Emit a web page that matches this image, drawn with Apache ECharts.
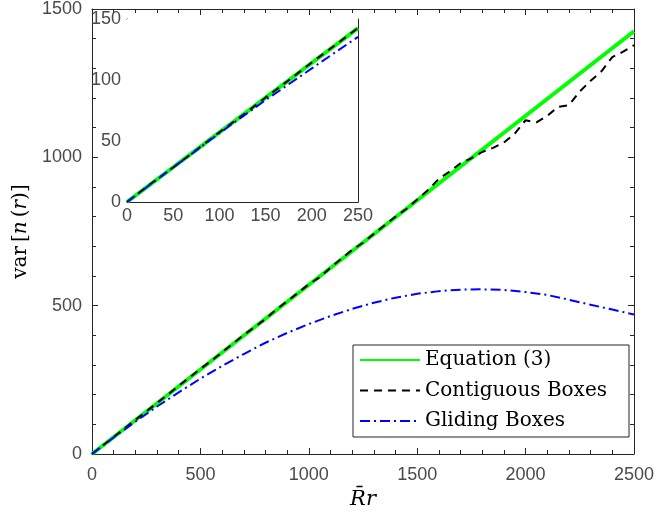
<!DOCTYPE html>
<html>
<head>
<meta charset="utf-8">
<script src="https://cdn.jsdelivr.net/npm/echarts@6/dist/echarts.min.js"></script>
<style>
  html, body { margin: 0; padding: 0; background: #fff; }
  #chart { width: 657px; height: 515px; }
</style>
</head>
<body>
<div id="chart"></div>
<script>
// ---- data ----
var seriesNames = ['Equation (3)', 'Contiguous Boxes', 'Gliding Boxes'];

// Equation (3): straight line through the origin
var eqX = [0, 2500];
var eqY = [0, 1425];

// Contiguous boxes (sampled every 50)
var contX = [0, 50, 100, 150, 200, 250, 300, 350, 400, 450, 500, 550, 600, 650, 700, 750, 800, 850, 900, 950,
  1000, 1050, 1100, 1150, 1200, 1250, 1300, 1350, 1400, 1450, 1500, 1550, 1600, 1650, 1700, 1750, 1800, 1850, 1900, 1950,
  2000, 2050, 2100, 2150, 2200, 2250, 2300, 2350, 2400, 2450, 2500];
var contY = [0, 29, 57, 86, 115, 143, 172, 200, 230, 258, 287, 314, 343, 372, 401, 428, 455, 487, 515, 543,
  572, 596, 628, 658, 688, 712, 742, 771, 800, 826, 858, 890, 928, 952, 980, 997, 1018, 1032, 1050, 1080,
  1125, 1118, 1140, 1170, 1176, 1222, 1258, 1290, 1338, 1356, 1378];

// Gliding boxes (sampled every 100)
var glideX = [0, 100, 200, 300, 400, 500, 600, 700, 800, 900, 1000, 1100, 1200, 1300, 1400, 1500, 1600, 1700, 1800,
  1900, 2000, 2100, 2200, 2300, 2400, 2500];
var glideY = [0, 56, 109, 160, 208, 254, 297, 337, 375, 408, 438, 465, 489, 510, 527, 540, 549, 554, 555,
  553, 546, 536, 520, 503, 487, 470];

// Close-up of the first 250 units
var zoomX = [0, 25, 50, 75, 100, 125, 150, 175, 200, 225, 250];
var zoomEqY = [0, 14.25, 28.5, 42.75, 57, 71.25, 85.5, 99.75, 114, 128.25, 142.5];
var zoomContY = [0, 14.5, 28.3, 42.6, 57.2, 71.0, 85.6, 99.8, 114.4, 128.4, 142.6];
var zoomGlideY = [0, 14.3, 28.4, 42.3, 56.4, 70.0, 83.5, 96.5, 109.5, 122.5, 135.3];

function pairs(xs, ys) { return xs.map(function (x, i) { return [x, ys[i]]; }); }

var axisColor = '#262626';
var labelColor = '#4a4a4a';
var sansFont = '"Liberation Sans", Arial, sans-serif';
var serifFont = '"DejaVu Serif", serif';

function boxAxis(opts) {
  // one side of a boxed axes frame: ticks pointing inwards, minor ticks
  var a = {
    type: 'value',
    gridIndex: opts.grid,
    position: opts.position,
    min: opts.min, max: opts.max, interval: opts.interval,
    axisLine: { show: true, onZero: false, lineStyle: { color: axisColor, width: 1 } },
    axisTick: { show: true, inside: true, length: opts.tickLen, lineStyle: { color: axisColor } },
    minorTick: { show: true, splitNumber: opts.minorSplit, length: opts.minorLen, lineStyle: { color: axisColor } },
    splitLine: { show: false },
    axisLabel: opts.labels ? {
      show: true, color: labelColor, fontFamily: sansFont, fontSize: opts.fontSize, margin: opts.margin,
      showMinLabel: true, showMaxLabel: true,
      formatter: function (v) { return String(v); }
    } : { show: false }
  };
  if (opts.name) {
    a.name = opts.name;
    a.nameLocation = 'middle';
    a.nameGap = opts.nameGap;
    a.nameRotate = opts.nameRotate;
    a.nameTextStyle = opts.nameTextStyle;
  }
  return a;
}

var greenStyle = { color: '#00ff00', width: 4, type: 'solid' };
var blackStyle = { color: '#000000', width: 2, type: [8, 6] };
var blueStyle = { color: '#0000ff', width: 2, type: [10, 4, 2, 4] };

function lineSeries(name, xi, yi, data, style, z) {
  return {
    name: name, type: 'line', xAxisIndex: xi, yAxisIndex: yi, data: data,
    showSymbol: false, symbol: 'none', smooth: false, lineStyle: style,
    itemStyle: { color: style.color }, z: z, animation: false, silent: true
  };
}

var chart = echarts.init(document.getElementById('chart'), null, { renderer: 'canvas' });

chart.setOption({
  backgroundColor: '#ffffff',
  animation: false,
  grid: [
    { left: 92, right: 23, top: 9, bottom: 61, containLabel: false },
    { left: 127, top: 19, width: 231, height: 183, show: true, backgroundColor: '#ffffff', borderWidth: 0, z: 5 }
  ],
  xAxis: [
    boxAxis({ grid: 0, position: 'bottom', min: 0, max: 2500, interval: 500, tickLen: 6, minorSplit: 5, minorLen: 4,
      labels: true, fontSize: 18, margin: 12,
      name: 'R\u0304r', nameGap: 32,
      nameTextStyle: { fontFamily: serifFont, fontStyle: 'italic', fontSize: 21, color: '#000' } }),
    boxAxis({ grid: 0, position: 'top', min: 0, max: 2500, interval: 500, tickLen: 6, minorSplit: 5, minorLen: 4, labels: false }),
    boxAxis({ grid: 1, position: 'bottom', min: 0, max: 250, interval: 50, tickLen: 5, minorSplit: 2, minorLen: 3,
      labels: true, fontSize: 18, margin: 5 }),
    boxAxis({ grid: 1, position: 'top', min: 0, max: 250, interval: 50, tickLen: 5, minorSplit: 2, minorLen: 3, labels: false })
  ],
  yAxis: [
    boxAxis({ grid: 0, position: 'left', min: 0, max: 1500, interval: 500, tickLen: 6, minorSplit: 5, minorLen: 4,
      labels: true, fontSize: 18, margin: 10,
      name: '{u|var\u2009[}{i|n}{u|\u2009(}{i|r}{u|)]}', nameGap: 56, nameRotate: 90,
      nameTextStyle: {
        rich: {
          u: { fontFamily: serifFont, fontSize: 20, color: '#000' },
          i: { fontFamily: serifFont, fontStyle: 'italic', fontSize: 20, color: '#000' }
        }
      } }),
    boxAxis({ grid: 0, position: 'right', min: 0, max: 1500, interval: 500, tickLen: 6, minorSplit: 5, minorLen: 4, labels: false }),
    boxAxis({ grid: 1, position: 'left', min: 0, max: 150, interval: 50, tickLen: 5, minorSplit: 2, minorLen: 3,
      labels: true, fontSize: 18, margin: 6 }),
    boxAxis({ grid: 1, position: 'right', min: 0, max: 150, interval: 50, tickLen: 5, minorSplit: 2, minorLen: 3, labels: false })
  ],
  legend: {
    orient: 'vertical',
    left: 353, top: 345,
    data: seriesNames,
    backgroundColor: '#ffffff',
    borderColor: axisColor, borderWidth: 1,
    padding: [5, 22, 6, 6],
    itemWidth: 60, itemHeight: 14, itemGap: 10.5,
    itemStyle: { color: 'rgba(0,0,0,0)', borderColor: 'rgba(0,0,0,0)', borderWidth: 0, opacity: 0 },
    textStyle: { fontFamily: serifFont, fontSize: 20, color: '#000', lineHeight: 20 },
    selectedMode: false
  },
  series: [
    lineSeries(seriesNames[0], 0, 0, pairs(eqX, eqY), greenStyle, 2),
    lineSeries(seriesNames[1], 0, 0, pairs(contX, contY), blackStyle, 3),
    lineSeries(seriesNames[2], 0, 0, pairs(glideX, glideY), blueStyle, 3),
    lineSeries(seriesNames[0], 2, 2, pairs(zoomX, zoomEqY), greenStyle, 6),
    lineSeries(seriesNames[1], 2, 2, pairs(zoomX, zoomContY), blackStyle, 7),
    lineSeries(seriesNames[2], 2, 2, pairs(zoomX, zoomGlideY), blueStyle, 7)
  ]
});
</script>
</body>
</html>
